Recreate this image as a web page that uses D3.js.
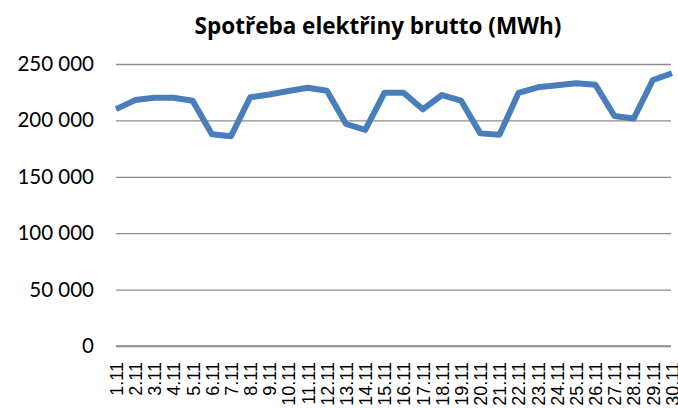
<!DOCTYPE html>
<html>
<head>
<meta charset="utf-8">
<script src="https://cdn.jsdelivr.net/npm/d3@7"></script>
<style>
  html, body { margin: 0; padding: 0; background: #fff; }
  svg { display: block; }
</style>
</head>
<body>
<svg id="chart" width="678" height="408"></svg>
<script>
// Daily gross electricity consumption, November (MWh)
const days = ["1.11","2.11","3.11","4.11","5.11","6.11","7.11","8.11","9.11","10.11",
              "11.11","12.11","13.11","14.11","15.11","16.11","17.11","18.11","19.11","20.11",
              "21.11","22.11","23.11","24.11","25.11","26.11","27.11","28.11","29.11","30.11"];
const consumption = [210000, 218000, 220000, 220000, 217500, 187700, 186000, 220500, 223000, 226000,
                     229000, 226300, 196800, 191500, 224500, 224500, 209800, 222500, 217500, 188500,
                     187300, 224500, 229300, 231100, 232900, 231700, 203900, 201600, 235800, 241800];
const yTicks = [0, 50000, 100000, 150000, 200000, 250000];
const title = "Spotřeba elektřiny brutto (MWh)";

const svg = d3.select("#chart");
const plotLeft = 116, plotRight = 672, plotTop = 64, plotBottom = 346, gridEnd = 671;

const x = d3.scalePoint().domain(days).range([plotLeft, plotRight]);
const y = d3.scaleLinear().domain([0, 250000]).range([plotBottom, plotTop]);

const fmt = v => d3.format(",")(v).replace(/,/g, " ");

// Horizontal gridlines with value labels
const yAxis = d3.axisLeft(y).tickValues(yTicks).tickSize(-(gridEnd - plotLeft)).tickPadding(22).tickFormat(fmt);
const gy = svg.append("g").attr("transform", `translate(${plotLeft},0)`).call(yAxis);
gy.select(".domain").remove();
gy.selectAll(".tick line").attr("stroke", "#8c8c8c").attr("stroke-width", 1.3);
gy.selectAll(".tick text")
  .attr("font-family", "Lato, 'Open Sans', sans-serif")
  .attr("font-size", 20.5).attr("fill", "#000");

// Category axis with rotated day labels
const xAxis = d3.axisBottom(x).tickSize(0).tickPadding(0);
const gx = svg.append("g").attr("transform", `translate(0,${plotBottom})`).call(xAxis);
gx.select(".domain").attr("d", `M${plotLeft},0H${gridEnd}`).attr("stroke", "#8c8c8c").attr("stroke-width", 1.3);
gx.selectAll(".tick text")
  .attr("font-family", "'Liberation Sans', Arial, sans-serif")
  .attr("font-size", 18).attr("fill", "#000")
  .attr("text-anchor", "end")
  .attr("dy", "0.35em")
  .attr("transform", "translate(0,16) rotate(-90)")
  .attr("x", 0).attr("y", 0);

// Consumption line
const line = d3.line().x((d, i) => x(days[i])).y(d => y(d));
svg.append("path").datum(consumption)
  .attr("d", line)
  .attr("fill", "none")
  .attr("stroke", "#4a7ebb")
  .attr("stroke-width", 6)
  .attr("stroke-linejoin", "round");

// Title
svg.append("text")
  .attr("x", 378).attr("y", 34)
  .attr("text-anchor", "middle")
  .attr("font-family", "'Open Sans', Lato, sans-serif")
  .attr("font-weight", "bold").attr("font-size", 22.5)
  .text(title);
</script>
</body>
</html>
